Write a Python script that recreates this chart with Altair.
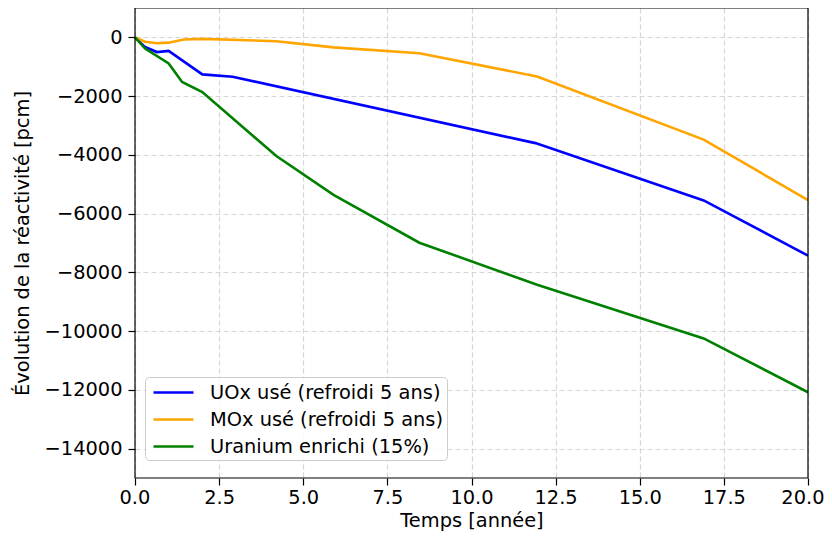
import altair as alt
import pandas as pd

# Series readings
uox_x = [0.0, 0.3, 0.65, 1.0, 2.0, 2.9, 11.9, 16.9, 20.0]
uox_y = [0, -330, -500, -460, -1260, -1340, -3600, -5550, -7430]

mox_x = [0.0, 0.3, 0.65, 1.0, 1.45, 2.0, 4.2, 5.9, 8.45, 11.95, 16.9, 20.0]
mox_y = [0, -150, -200, -180, -70, -50, -130, -340, -540, -1330, -3480, -5540]

ue_x = [0.0, 0.3, 1.0, 1.4, 2.0, 4.2, 5.9, 8.45, 11.95, 16.9, 20.0]
ue_y = [0, -380, -890, -1520, -1860, -4040, -5360, -6990, -8420, -10250, -12080]

series_names = ["UOx usé (refroidi 5 ans)", "MOx usé (refroidi 5 ans)", "Uranium enrichi (15%)"]
series_colors = ["#0000ff", "#ffa500", "#008000"]

x_ticks = [0, 2.5, 5, 7.5, 10, 12.5, 15, 17.5, 20]
y_ticks = [0, -2000, -4000, -6000, -8000, -10000, -12000, -14000]

rows = []
for name, xs, ys in zip(series_names, [uox_x, mox_x, ue_x], [uox_y, mox_y, ue_y]):
    for i, (a, b) in enumerate(zip(xs, ys)):
        rows.append({"serie": name, "t": a, "rho": b, "i": i})
df = pd.DataFrame(rows)

FONT = "DejaVu Sans"
FS = 19.4
W, H = 673, 470

lines = alt.Chart(df).mark_line(strokeWidth=2.6).encode(
    x=alt.X("t:Q", scale=alt.Scale(domain=[0, 20], nice=False, zero=False),
            axis=alt.Axis(title="Temps [année]", values=x_ticks, format=".1f",
                          grid=True, gridDash=[5, 3], gridColor="#d6d6d6", gridWidth=1.2,
                          tickColor="black", tickSize=7, tickWidth=1.2,
                          domain=False, labelPadding=3, titlePadding=5,
                          labelFont=FONT, labelFontSize=FS, labelColor="black",
                          titleFont=FONT, titleFontSize=FS, titleFontWeight="normal",
                          titleColor="black", labelFlush=True, labelFlushOffset=16,
                          labelOverlap=False)),
    y=alt.Y("rho:Q", scale=alt.Scale(domain=[-15000, 1000], nice=False, zero=False),
            axis=alt.Axis(title="Évolution de la réactivité [pcm]", values=y_ticks, format="d",
                          grid=True, gridDash=[5, 3], gridColor="#d6d6d6", gridWidth=1.2,
                          tickColor="black", tickSize=7, tickWidth=1.2,
                          domain=False, labelPadding=6, titlePadding=12,
                          labelFont=FONT, labelFontSize=FS, labelColor="black",
                          titleFont=FONT, titleFontSize=FS, titleFontWeight="normal",
                          titleColor="black")),
    color=alt.Color("serie:N",
                    scale=alt.Scale(domain=series_names, range=series_colors),
                    sort=series_names,
                    legend=alt.Legend(title=None, orient="none", legendX=10, legendY=369,
                                      symbolType="M-2,0H2", symbolSize=400,
                                      symbolOffset=13, symbolStrokeWidth=2.6,
                                      labelFont=FONT, labelFontSize=FS, labelColor="black",
                                      labelLimit=400, labelOffset=25, rowPadding=6,
                                      padding=4, strokeColor="#cccccc", cornerRadius=4,
                                      fillColor="rgba(255,255,255,0.8)")),
    order="i:Q",
)

frame = alt.Chart(alt.Data(values=[{"k": 1}])).mark_rect(
    filled=False, stroke="black", strokeWidth=1.2
).encode(x=alt.value(0), x2=alt.value(W), y=alt.value(0), y2=alt.value(H))

chart = alt.layer(lines, frame).properties(
    width=W, height=H,
    autosize=alt.AutoSizeParams(type="none"),
    padding={"left": 127, "top": 0, "right": 16, "bottom": 54},
).configure_view(stroke=None)

chart.save("out.html", embed_options={"renderer": "svg", "actions": False})
